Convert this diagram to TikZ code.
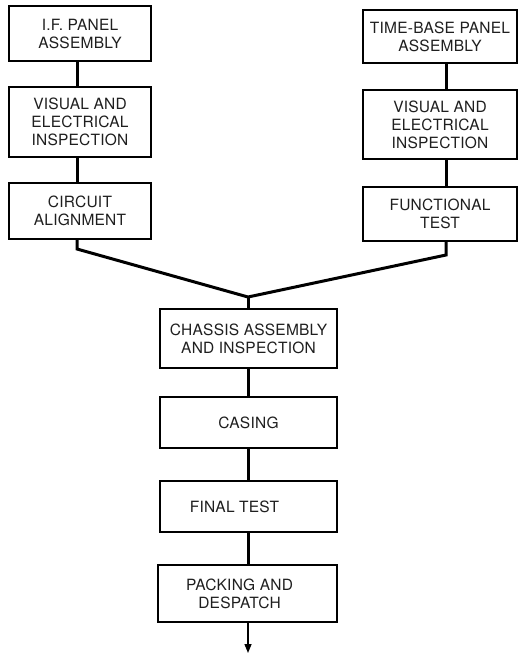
\documentclass[tikz,border=0pt]{standalone}
\usepackage{fontspec}
\setmainfont{TeX Gyre Heros}[LetterSpace=1.5]
\usetikzlibrary{arrows.meta,calc}
\begin{document}
\begin{tikzpicture}[x=1pt,y=-1pt,
  box/.style={draw=black,line width=1.5pt,rectangle,inner sep=0pt,align=center,
    font=\fontsize{15.5}{18}\selectfont,text=black!88},
  link/.style={draw=black,line width=3pt,line join=miter},
  thin/.style={draw=black,line width=1.4pt}]
\useasboundingbox (0,0) rectangle (521,654);
\fill[white] (0,0) rectangle (521,654);
% left column
\node[box,minimum width=142pt,minimum height=55pt] (L1) at (80,33.5) {I.F. PANEL\\ASSEMBLY};
\node[box,minimum width=142pt,minimum height=70pt] (L2) at (80,122) {VISUAL AND\\ELECTRICAL\\INSPECTION};
\node[box,minimum width=142pt,minimum height=56pt] (L3) at (80,211) {CIRCUIT\\ALIGNMENT};
% right column
\node[box,minimum width=154pt,minimum height=53pt] (R1) at (440,36.5) {TIME-BASE PANEL\\ASSEMBLY};
\node[box,minimum width=154pt,minimum height=69pt] (R2) at (440,124.5) {VISUAL AND\\ELECTRICAL\\INSPECTION};
\node[box,minimum width=154pt,minimum height=54pt] (R3) at (440,214) {FUNCTIONAL\\TEST};
% centre column
\node[box,minimum width=177pt,minimum height=59pt] (C1) at (248.5,338.5) {CHASSIS ASSEMBLY\\AND INSPECTION};
\node[box,minimum width=177pt,minimum height=51pt] (C2) at (248.5,422.5) {CASING};
\node[box,minimum width=177pt,minimum height=51pt] (C3) at (248.5,506.5) {FINAL TEST\hspace*{28pt}};
\node[box,minimum width=179pt,minimum height=57pt] (C4) at (247.5,593.5) {PACKING AND\hspace*{16pt}\\DESPATCH\hspace*{16pt}};
% guide coordinates
\coordinate (Lx) at (77,0);
\coordinate (Rx) at (446,0);
\coordinate (Cx) at (248,0);
\coordinate (Lk) at (77,249);
\coordinate (Rk) at (446,255);
\coordinate (M) at (248,297);
\coordinate (End) at (248,653);
% connectors
\draw[link] (L1.south -| Lx) -- (L2.north -| Lx);
\draw[link] (L2.south -| Lx) -- (L3.north -| Lx);
\draw[link] (R1.south -| Rx) -- (R2.north -| Rx);
\draw[link] (R2.south -| Rx) -- (R3.north -| Rx);
\draw[link] (L3.south -| Lx) -- (Lk) -- (M) -- (Rk) -- (R3.south -| Rx);
\draw[link] (M) -- (C1.north -| Cx);
\draw[link] (C1.south -| Cx) -- (C2.north -| Cx);
\draw[link] (C2.south -| Cx) -- (C3.north -| Cx);
\draw[link] (C3.south -| Cx) -- (C4.north -| Cx);
\draw[thin,-{Triangle[length=9pt,width=7pt]}] (C4.south -| Cx) -- (End);
\end{tikzpicture}
\end{document}
